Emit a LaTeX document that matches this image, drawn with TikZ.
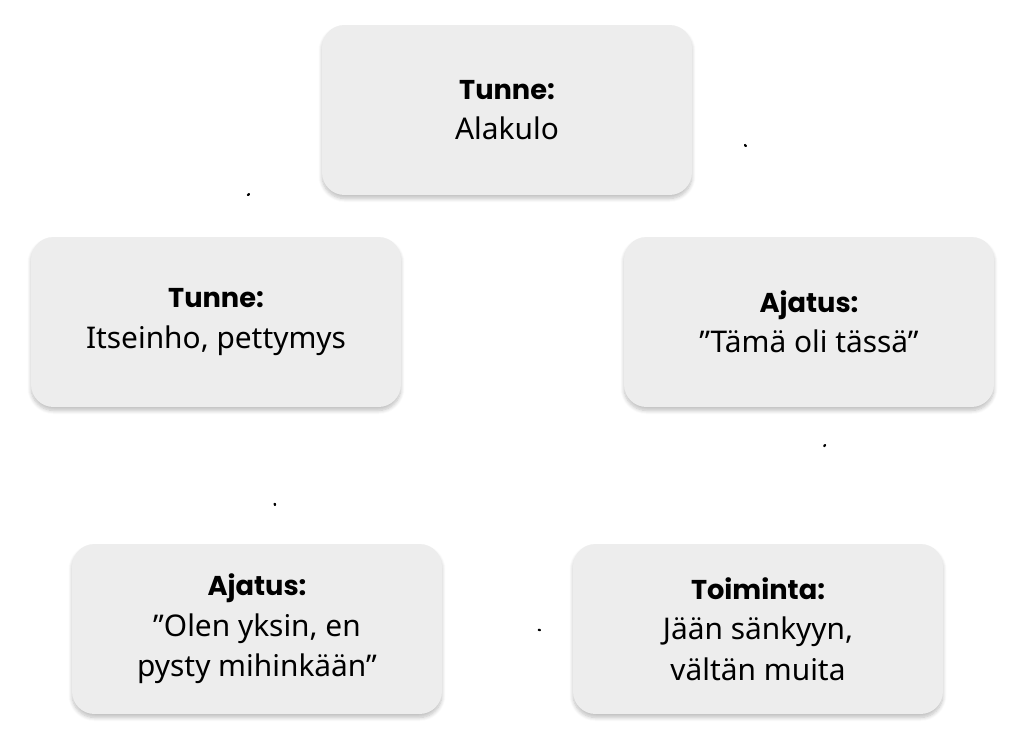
\documentclass[tikz,border=0pt]{standalone}
\usepackage{fontspec}
\setmainfont{Noto Sans}
\newfontfamily\ttl{Poppins}[BoldFont={* Bold}]
\usetikzlibrary{shadows.blur}
\begin{document}
\begin{tikzpicture}[x=0.02cm,y=-0.02cm,
 box/.style={fill=black!7,rounded corners=0.45cm,minimum width=7.4cm,minimum height=3.4cm,align=center,font=\fontsize{17}{23}\selectfont,blur shadow={shadow xshift=0pt,shadow yshift=-2pt,shadow blur steps=8,shadow opacity=25}},
 arr/.pic={\draw[line width=1.1pt,fill=black!10,line join=round]
  (0,0.17) .. controls (0.4,0.45) and (0.72,0.42) .. (0.92,0.27) -- (1.05,0.44) -- (1.35,0) -- (0.82,-0.05) -- (0.86,0.11)
  .. controls (0.68,0.22) and (0.38,0.22) .. (0,-0.17) -- cycle;}]
\useasboundingbox (0,0) rectangle (1024,754);
\newcommand\ttlt[1]{{\ttl\bfseries\fontsize{15.5}{23}\selectfont #1}}
\node[box] (n1) at (507,110) {\ttlt{Tunne:}\\Alakulo};
\node[box] (n2) at (809,322) {\ttlt{Ajatus:}\\”Tämä oli tässä”};
\node[box] (n3) at (758,629) {\ttlt{Toiminta:}\\Jään sänkyyn,\\vältän muita};
\node[box] (n4) at (257,629) {\ttlt{Ajatus:}\\”Olen yksin, en\\pysty mihinkään”};
\node[box] (n5) at (216,322) {\ttlt{Tunne:}\\Itseinho, pettymys};
\path (745,145) pic[rotate=-43,scale=1.0] (a1) {arr};
\path (825,445) pic[rotate=-117,scale=0.98] (a2) {arr};
\path (540,630) pic[rotate=180,scale=0.95] (a3) {arr};
\path (275,505) pic[rotate=113,scale=0.95] (a4) {arr};
\path (248,195) pic[rotate=49,scale=1.0] (a5) {arr};
\end{tikzpicture}
\end{document}
